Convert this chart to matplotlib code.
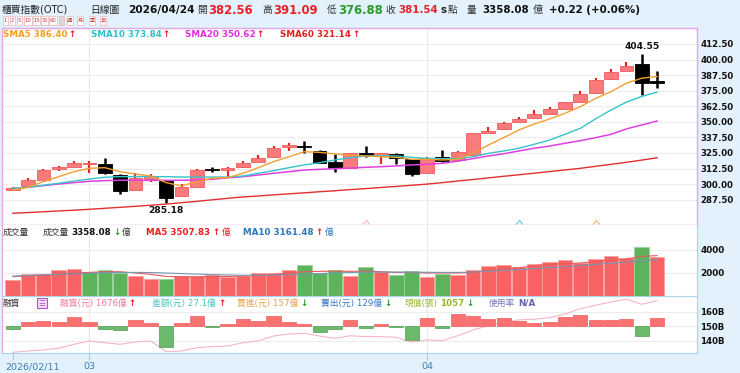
import numpy as np
import matplotlib.pyplot as plt
from matplotlib.patches import Rectangle
from matplotlib.transforms import blended_transform_factory

plt.rcParams['font.family'] = ['DejaVu Sans', 'Noto Sans CJK TC']

# OHLC, 2026/02/11 .. 2026/04/24
opens = [295.5, 298.5, 303.6, 312.0, 313.8, 316.4, 316.4, 307.6, 295.3, 304.4,
         302.8, 290.5, 297.9, 312.5, 311.0, 313.5, 318.0, 322.0, 329.6, 330.0,
         326.6, 318.0, 313.2, 325.2, 322.3, 324.4, 319.9, 309.2, 321.5, 319.4,
         323.4, 341.3, 344.0, 350.1, 352.8, 356.1, 360.3, 366.2, 372.9, 384.2,
         391.1, 396.2, 382.56]
highs = [297.5, 305.0, 312.0, 314.3, 318.3, 318.3, 321.0, 308.0, 308.7, 307.9,
         303.0, 300.0, 312.0, 314.0, 314.0, 318.8, 323.4, 330.6, 332.8, 335.0,
         327.5, 324.0, 325.0, 330.6, 325.0, 325.0, 320.0, 322.0, 327.2, 326.8,
         341.0, 346.1, 350.1, 354.1, 359.5, 362.2, 366.2, 374.8, 385.0, 392.4,
         398.3, 404.55, 391.09]
lows = [295.0, 298.0, 303.5, 310.5, 313.5, 308.7, 308.5, 292.0, 295.0, 302.0,
        285.18, 290.3, 297.5, 310.0, 306.0, 313.0, 317.8, 322.0, 326.8, 325.2,
        317.0, 310.0, 313.0, 322.0, 316.2, 316.0, 306.8, 309.0, 318.0, 319.0,
        323.0, 341.0, 344.0, 350.0, 352.5, 356.0, 360.0, 366.0, 372.5, 383.4,
        391.0, 371.6, 376.88]
closes = [296.5, 303.5, 311.3, 313.5, 317.2, 317.0, 308.7, 294.2, 304.7, 306.5,
          288.6, 297.5, 311.3, 311.5, 313.2, 317.2, 321.2, 329.3, 331.2, 329.5,
          317.2, 312.7, 324.7, 322.6, 324.7, 320.7, 307.9, 320.7, 318.3, 325.5,
          341.0, 342.7, 349.3, 352.3, 356.3, 360.1, 365.7, 372.4, 383.4, 390.3,
          395.1, 381.32, 381.54]

sma5 = [295.3, 297.5, 302.0, 306.0, 310.0, 312.7, 313.2, 310.0, 308.1, 306.5,
        301.2, 298.5, 302.0, 304.7, 305.2, 308.7, 313.2, 318.0, 322.0, 326.0,
        325.5, 324.2, 323.4, 322.6, 322.0, 321.5, 319.9, 319.9, 319.4, 319.9,
        324.7, 331.4, 337.3, 343.5, 348.3, 352.3, 356.9, 362.2, 368.9, 374.2,
        381.0, 385.0, 386.40]
sma10 = [296.6, 297.5, 299.1, 300.7, 302.5, 304.1, 305.5, 306.0, 306.0, 306.0,
         306.0, 305.7, 305.7, 305.7, 305.7, 306.5, 308.7, 310.8, 313.2, 315.4,
         317.2, 319.4, 321.2, 322.6, 322.8, 322.6, 321.5, 320.7, 320.4, 320.4,
         322.0, 324.7, 326.6, 328.8, 332.0, 335.4, 340.0, 344.8, 352.5, 359.5,
         365.8, 370.4, 373.84]
sma20 = [296.3, 297.5, 298.8, 300.1, 301.2, 302.3, 302.8, 303.1, 303.1, 303.1,
         303.1, 303.1, 303.4, 303.9, 305.0, 306.0, 307.3, 308.7, 310.0, 311.3,
         311.9, 312.4, 312.9, 313.5, 314.0, 314.6, 315.4, 315.9, 316.7, 318.4,
         320.5, 322.6, 324.4, 326.6, 328.8, 330.6, 332.8, 334.9, 337.3, 340.0,
         344.3, 347.5, 350.62]
sma60 = [276.6, 277.2, 277.8, 278.5, 279.1, 279.8, 280.6, 281.4, 282.2, 283.1,
         284.0, 285.1, 286.2, 287.4, 288.6, 289.7, 290.5, 291.4, 292.2, 293.0,
         293.9, 294.7, 295.6, 296.4, 297.3, 298.2, 299.1, 300.0, 301.2, 302.5,
         303.7, 305.0, 306.3, 307.5, 308.8, 310.1, 311.4, 312.7, 314.3, 315.9,
         317.5, 319.3, 321.14]

# volume (億)
volume = [1417, 1878, 1878, 2226, 2313, 2052, 2261, 2026, 1739, 1504,
          1444, 1704, 1704, 1791, 1652, 1704, 2000, 2000, 2226, 2722,
          2000, 2261, 1739, 2522, 2052, 1852, 2200, 1617, 1913, 1852,
          2287, 2635, 2722, 2487, 2809, 2983, 3157, 2870, 3217, 3505,
          3270, 4287, 3358.08]
vol_ma5 = [1678, 1765, 1820, 1910, 2000, 2052, 2110, 2110, 2000, 1880,
           1700, 1680, 1650, 1700, 1700, 1720, 1820, 1880, 2000, 2110,
           2140, 2170, 2140, 2170, 2110, 2050, 2050, 2000, 2000, 2000,
           2050, 2200, 2345, 2460, 2635, 2750, 2810, 2870, 2980, 3100,
           3220, 3450, 3507.83]
vol_ma10 = [1730, 1780, 1830, 1880, 1930, 1980, 2020, 2040, 2050, 2040,
            2000, 1950, 1900, 1860, 1830, 1800, 1800, 1820, 1860, 1900,
            1950, 2000, 2040, 2070, 2080, 2080, 2070, 2060, 2050, 2050,
            2080, 2150, 2230, 2300, 2380, 2470, 2560, 2650, 2750, 2850,
            2950, 3060, 3161.48]

# margin: daily change (億) and balance (B)
margin_diff = [-9, 13, 15, 13, 30, 12, -9, -12, 20, 11,
               -70, 9, 34, -2, 5, 23, 15, 34, 13, 5,
               -18, -9, 21, -8, 8, -3, -44, 25, -8, 40,
               34, 23, 26, 17, 10, 14, 29, 36, 20, 20,
               24, -33, 27.1]
margin_bal = [132.0, 132.9, 133.6, 134.8, 137.5, 139.8, 138.6, 137.5, 139.1, 139.8,
              132.4, 132.9, 135.2, 135.9, 136.3, 138.6, 139.8, 143.2, 144.6, 145.1,
              143.2, 141.6, 143.4, 142.8, 142.8, 142.3, 138.9, 140.5, 140.0, 143.4,
              147.4, 150.3, 152.9, 154.3, 154.8, 155.9, 158.4, 162.1, 164.4, 166.7,
              168.6, 165.1, 167.6]

date_ticks = [0, 5, 27]
date_labels = ['2026/02/11', '03', '04']
price_ticks = [287.5, 300.0, 312.5, 325.0, 337.5, 350.0, 362.5, 375.0, 387.5, 400.0, 412.5]
vol_ticks = [2000, 4000]
margin_ticks = [140, 150, 160]
margin_tick_labels = ['140B', '150B', '160B']
event_idx = [23, 33, 38]
event_colors = ['#f4b8c8', '#60d0d8', '#f4b070']

RED = '#e8202a'
GREEN = '#2a9a2a'
BG = '#e2f1fb'
PINK = '#e6a6e6'
LBLUE = '#a9d3ef'

W, H = 740, 373
fig = plt.figure(figsize=(7.4, 3.73), dpi=100, facecolor=BG)
renderer = fig.canvas.get_renderer()


def fx(px):
    return px / W


def fy(py):
    return 1 - py / H


def row(x, y, parts, size, gap=1.0):
    for s, color, weight in parts:
        t = fig.text(fx(x), fy(y), s, color=color, fontsize=size, fontweight=weight,
                     ha='left', va='center')
        bb = t.get_window_extent(renderer)
        x = bb.x1 + gap


n = len(closes)
xs = np.arange(n)
xlim = (-0.7, 44.6)

# ---------------- main candlestick panel
ax1 = fig.add_axes([fx(2), fy(225), fx(695), 197 / H])
ax1.set_facecolor('white')
for i in range(n):
    up = closes[i] >= opens[i]
    body_lo = min(opens[i], closes[i])
    body_h = max(abs(closes[i] - opens[i]), 0.9)
    if up:
        ax1.vlines(i, lows[i], highs[i], color='#e62222', lw=1.6, zorder=2)
        ax1.bar(i, body_h, bottom=body_lo, width=0.9, color='#f97b7b',
                edgecolor='#ee5a5a', lw=0.6, zorder=3)
    else:
        ax1.vlines(i, lows[i], highs[i], color='black', lw=1.8, zorder=2)
        ax1.bar(i, body_h, bottom=body_lo, width=0.9, color='black',
                edgecolor='black', lw=0.6, zorder=3)

ax1.plot(xs, sma60, color='#e23030', lw=1.0, zorder=4)
ax1.plot(xs, sma20, color='#e040e0', lw=1.1, zorder=4)
ax1.plot(xs, sma10, color='#34c4cc', lw=1.0, zorder=4)
ax1.plot(xs, sma5, color='#f2a030', lw=1.0, zorder=4)

chevron = [(-1, -0.6), (0, 0.6), (1, -0.6)]
for k, c in zip(event_idx, event_colors):
    ax1.plot([k], [269.8], marker=chevron, ms=5, mfc='none', mec=c, mew=0.8, zorder=5)

hi_i = int(np.argmax(highs))
lo_i = int(np.argmin(lows))
ax1.annotate(f'{highs[hi_i]:.2f}', (hi_i, highs[hi_i]), xytext=(0, 2), textcoords='offset points',
             ha='center', va='bottom', fontsize=6.6, fontweight='bold', color='#111')
ax1.annotate(f'{lows[lo_i]:.2f}', (lo_i, lows[lo_i]), xytext=(0, -2.5), textcoords='offset points',
             ha='center', va='top', fontsize=6.6, fontweight='bold', color='#111')

ax1.set_xlim(*xlim)
ax1.set_ylim(267.2, 425.3)
ax1.set_xticks([])
ax1.yaxis.tick_right()
ax1.set_yticks(price_ticks, labels=[f'{v:.2f}' for v in price_ticks], fontweight='bold')
ax1.tick_params(axis='y', length=0, pad=2.5, labelsize=6.2, labelcolor='#111')
ax1.grid(axis='y', color='#ededed', lw=0.8, zorder=0)
for d in date_ticks[1:]:
    ax1.axvline(d, color='#e8e8e8', lw=0.8, zorder=0)
for sp in ax1.spines.values():
    sp.set_color(PINK)
    sp.set_linewidth(1.0)

# ---------------- volume panel
ax2 = fig.add_axes([fx(2), fy(296), fx(695), 71 / H])
ax2.set_facecolor('white')
vol_colors = ['#f86262'] + ['#f86262' if closes[i] >= closes[i - 1] else '#5cb35c' for i in range(1, n)]
vol_edges = ['#fca0a0' if c == '#f86262' else '#9ad49a' for c in vol_colors]
ax2.bar(xs, volume, width=0.95, color=vol_colors, edgecolor=vol_edges, lw=0.6, zorder=2)
ax2.plot(xs, vol_ma5, color='#e85a5a', lw=0.8, zorder=3)
ax2.plot(xs, vol_ma10, color='#7a94b4', lw=0.8, zorder=3)
ax2.set_xlim(*xlim)
ax2.set_ylim(0, 6170)
ax2.set_xticks([])
ax2.yaxis.tick_right()
ax2.set_yticks(vol_ticks, labels=[str(v) for v in vol_ticks], fontweight='bold')
ax2.tick_params(axis='y', length=0, pad=2.5, labelsize=6.4, labelcolor='#111')
ax2.grid(axis='y', color='#ededed', lw=0.8, zorder=0)
for d in date_ticks[1:]:
    ax2.axvline(d, color='#e8e8e8', lw=0.8, zorder=0)
ax2.spines['top'].set_visible(False)
ax2.spines['bottom'].set_visible(False)
ax2.spines['left'].set_color(PINK)
ax2.spines['right'].set_color(LBLUE)

# ---------------- margin panel
ax3 = fig.add_axes([fx(2), fy(353), fx(695), 57 / H])
ax3.set_facecolor('white')
ax3b = ax3.twinx()

ax3.plot(xs, margin_bal, color='#f6b4c8', lw=0.8, zorder=2)
ax3.set_xlim(*xlim)
ax3.set_ylim(131.5, 170.8)
ax3.set_yticks(margin_ticks, labels=margin_tick_labels, fontweight='bold')
ax3.yaxis.tick_right()
ax3.yaxis.set_label_position('right')
ax3.tick_params(axis='y', left=False, labelleft=False, right=False, labelright=True,
                length=0, pad=2.5, labelsize=6.2, labelcolor='#111')
ax3.grid(axis='y', color='#ededed', lw=0.8, zorder=0)
for d in date_ticks[1:]:
    ax3.axvline(d, color='#e8e8e8', lw=0.8, zorder=0)
ax3.set_xticks(date_ticks, labels=['', '', ''])
ax3.tick_params(axis='x', length=5, width=0.8, color='#a6c8e2', pad=1)
tr = blended_transform_factory(ax3.transData, ax3.transAxes)
for d, lab in zip(date_ticks, date_labels):
    if d == 0:
        ax3.text(d - 0.5, -0.245, lab, transform=tr, ha='left', va='center',
                 fontsize=6.8, color='#3f7fb5')
    else:
        ax3.text(d, -0.245, lab, transform=tr, ha='center', va='center',
                 fontsize=6.8, color='#3f7fb5')
for sp in ax3.spines.values():
    sp.set_color(LBLUE)
ax3.spines['left'].set_color(PINK)

m_colors = ['#f87272' if v >= 0 else '#6cb86c' for v in margin_diff]
m_edges = ['#f45a5a' if v >= 0 else '#4f9f4f' for v in margin_diff]
ax3b.bar(xs, margin_diff, width=0.92, color=m_colors, edgecolor=m_edges, lw=0.5, zorder=3)
ax3b.set_ylim(-88, 97.8)
ax3b.set_yticks([])
ax3b.tick_params(axis='y', right=False, labelright=False, left=False, labelleft=False)
for sp in ax3b.spines.values():
    sp.set_visible(False)

# ---------------- header texts
hs = 7.0
row(2, 10, [('櫃買指數(OTC)', '#222', 'normal')], hs)
row(90, 10, [('日線圖', '#222', 'normal')], hs)
row(128, 10, [('2026/04/24', '#111', 'bold')], 7.6)
row(197, 10, [('開', '#333', 'normal')], hs)
row(208, 10, [('382.56', RED, 'bold')], 8.4)
row(262, 10, [('高', '#333', 'normal')], hs)
row(273, 10, [('391.09', RED, 'bold')], 8.4)
row(327, 10, [('低', '#333', 'normal')], hs)
row(338, 10, [('376.88', GREEN, 'bold')], 8.4)
row(385, 10, [('收', '#333', 'normal')], hs)
row(398, 10, [('381.54', RED, 'bold'), ('s', '#222', 'bold')], 7.4, gap=3)
row(448, 10, [('點', '#333', 'normal')], hs)
row(467, 10, [('量', '#333', 'normal')], hs)
row(482, 10, [('3358.08', '#111', 'bold')], 7.4)
row(533, 10, [('億', '#333', 'normal'), ('+0.22 (+0.06%)', '#111', 'bold')], 7.4, gap=6)

# period buttons
buttons = [(2.7, 8.3, '1'), (10, 15, '2'), (16.7, 21.7, '5'), (24.3, 31.7, '10'),
           (32.7, 40, '15'), (41, 48.3, '30'), (49.3, 57.3, '60'), (59.3, 64, ''),
           (66.7, 72.7, '週'), (77.3, 83.3, '月'), (89.3, 95.3, '季'), (100, 106, '年')]
for x0, x1, lab in buttons:
    face = '#d8d8d8' if lab == '' else 'white'
    fig.patches.append(Rectangle((fx(x0), fy(24.5)), fx(x1 - x0), 8 / H, transform=fig.transFigure,
                                 facecolor=face, edgecolor='#f0b4b4', lw=0.5))
    if lab:
        fig.text(fx((x0 + x1) / 2), fy(20.3), lab, fontsize=3.8, color='#d03838',
                 ha='center', va='center')

# main legend
ls = 6.3
row(3, 34.5, [('SMA5 386.40', '#f4a020', 'bold'), ('↑', RED, 'bold')], ls)
row(91, 34.5, [('SMA10 373.84', '#2cc2ca', 'bold'), ('↑', RED, 'bold')], ls)
row(185, 34.5, [('SMA20 350.62', '#e030e0', 'bold'), ('↑', RED, 'bold')], ls)
row(280, 34.5, [('SMA60 321.14', '#e02020', 'bold'), ('↑', RED, 'bold')], ls)

# volume legend
vs = 6.3
row(3, 232.5, [('成交量', '#333', 'normal')], vs)
row(43, 232.5, [('成交量', '#333', 'normal'), ('3358.08', '#111', 'bold'),
                ('↓', GREEN, 'bold'), ('億', '#333', 'normal')], vs, gap=2)
row(146, 232.5, [('MA5 3507.83', '#e82020', 'bold'), ('↑', RED, 'bold'),
                 ('億', '#e82020', 'normal')], vs, gap=2)
row(243, 232.5, [('MA10 3161.48', '#2a78c0', 'bold'), ('↑', RED, 'bold'),
                 ('億', '#2a78c0', 'normal')], vs, gap=2)

# margin legend
ms_ = 6.3
row(3, 303.5, [('融資', '#333', 'normal')], ms_)
fig.patches.append(Rectangle((fx(37), fy(308)), fx(10), 10 / H, transform=fig.transFigure,
                             facecolor='#f3e0fa', edgecolor='#b050d0', lw=0.8))
fig.text(fx(42), fy(303.3), '☰', fontsize=5.5, color='#b050d0', ha='center', va='center')
row(60, 303.5, [('融資(元) 1676億', '#f27a9a', 'normal'), ('↑', RED, 'bold')], ms_, gap=2)
row(152, 303.5, [('差額(元) 27.1億', '#4cc4bc', 'normal'), ('↑', RED, 'bold')], ms_, gap=2)
row(237, 303.5, [('買進(元) 157億', '#f0a040', 'normal'), ('↓', GREEN, 'bold')], ms_, gap=2)
row(321, 303.5, [('賣出(元) 129億', '#3a7ac8', 'normal'), ('↓', GREEN, 'bold')], ms_, gap=2)
row(405, 303.5, [('現償(張)', '#96b832', 'normal'), ('1057', '#96b832', 'bold'),
                 ('↓', GREEN, 'bold')], ms_, gap=2)
row(489, 303.5, [('使用率', '#7474b8', 'normal'), ('N/A', '#6464b0', 'bold')], ms_, gap=3)

fig.savefig('out.png', dpi=100, facecolor=BG)
